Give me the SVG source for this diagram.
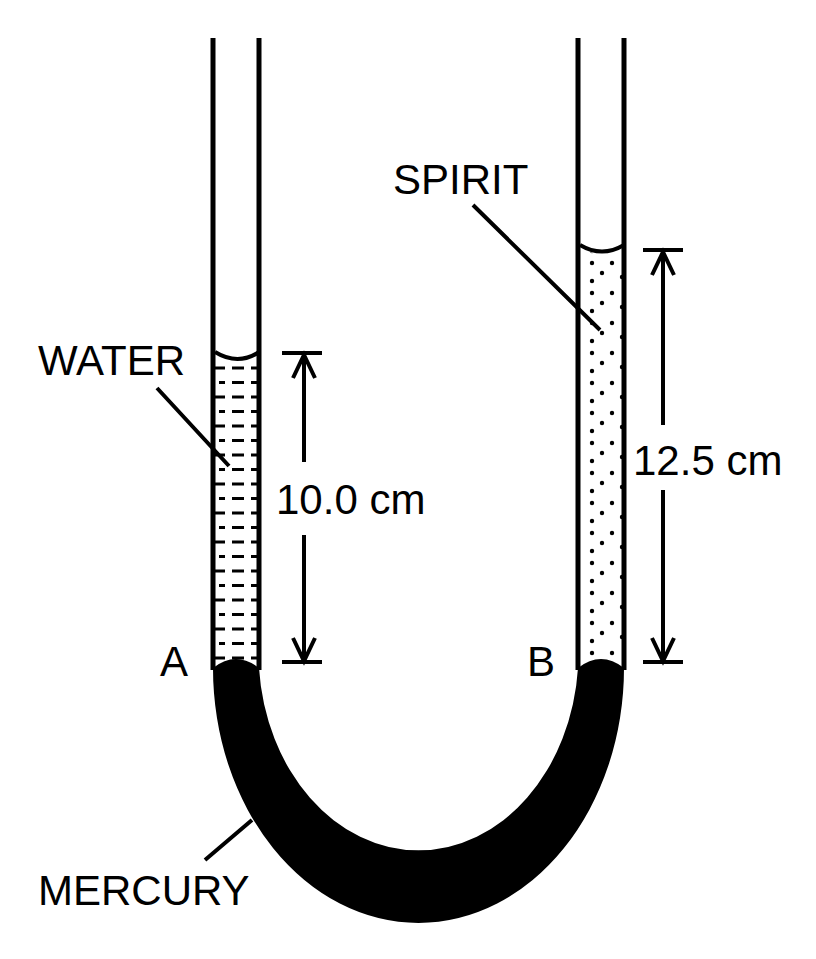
<svg xmlns="http://www.w3.org/2000/svg" width="816" height="959" viewBox="0 0 816 959">
<style>
.t{stroke:#000;stroke-width:5;fill:none}
.l{stroke:#000;stroke-width:4;fill:none}
text{font-family:"Liberation Sans",Arial,sans-serif;font-size:42px;fill:#000}
</style>
<defs>
<pattern id="water" x="215" y="366" width="46" height="29" patternUnits="userSpaceOnUse">
<path d="M0 2H10M17 2H29M36 2H46M4 16.5H10M17 16.5H29M36 16.5H42" stroke="#000" stroke-width="3"/>
</pattern>
<pattern id="dots" x="580" y="255" width="46" height="30" patternUnits="userSpaceOnUse">
<circle cx="12" cy="8" r="2.2"/><circle cx="32" cy="8" r="2.2"/><circle cx="22" cy="18" r="2.2"/><circle cx="42" cy="22" r="2.2"/><circle cx="12" cy="26" r="2.2"/>
</pattern>
</defs>
<g id="water-fill"><path d="M215 355Q238 368 259 355V662H215Z" fill="url(#water)"/></g>
<g id="spirit-fill"><path d="M580 248Q602 260 624 248V662H580Z" fill="url(#dots)"/></g>
<g id="mercury">
<path d="M213 668Q236 650 259 668A160 198 0 0 0 578 668Q601 650 624 668A205.5 255 0 0 1 213 668Z" fill="#000"/>
</g>
<g id="tube">
<path class="t" d="M213 38V670M259 38V670M578 38V670M624 38V670"/>
<path class="l" d="M215 352Q238 366 259 352M580 245Q602 258 624 245"/>
</g>
<g id="connectors">
<path class="l" d="M282 353H322M282 662H322M304 355V462M304 535V660M293 378L304 355L315 378M293 638L304 661L315 638"/>
<path class="l" d="M643 250H683M643 662H683M663 252V425M663 490V660M652 275L663 252L674 275M652 638L663 661L674 638"/>
<path class="l" d="M157 388L229 466M473 205L600 330M205 860L252 820"/>
</g>
<g id="labels">
<text x="38" y="375">WATER</text>
<text x="393" y="194">SPIRIT</text>
<text x="38" y="905">MERCURY</text>
<text x="160" y="676">A</text>
<text x="527" y="676">B</text>
<text x="276" y="514">10.0 cm</text>
<text x="633" y="475">12.5 cm</text>
</g>
</svg>
